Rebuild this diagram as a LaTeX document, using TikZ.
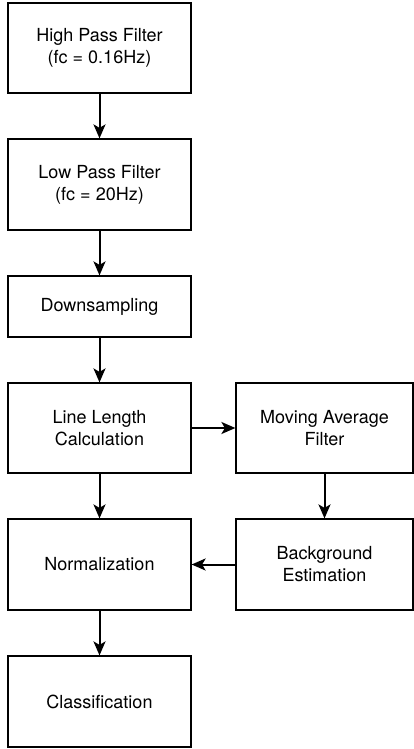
\documentclass[tikz,border=0pt]{standalone}
\usepackage{fontspec}
\setmainfont{TeX Gyre Heros}
\usetikzlibrary{arrows.meta}
\begin{document}
\begin{tikzpicture}[x=1pt,y=-1pt,
  block/.style={draw=black, line width=1.2pt, rectangle, inner sep=0pt,
    align=center, font=\fontsize{18}{22}\selectfont},
  flow/.style={line width=2pt, -{Stealth[length=14pt,width=12pt,inset=3.5pt]}}]
  \useasboundingbox (0,0) rectangle (414,749);
  % main column
  \node[block, minimum width=183pt, minimum height=90pt] (hpf) at (99.5,48) {High Pass Filter\\(fc = 0.16Hz)};
  \node[block, minimum width=183pt, minimum height=91pt] (lpf) at (99.5,184.5) {Low Pass Filter\\(fc = 20Hz)};
  \node[block, minimum width=183pt, minimum height=61pt] (ds) at (99.5,306.5) {Downsampling};
  \node[block, minimum width=183pt, minimum height=90pt] (ll) at (99.5,428) {Line Length\\Calculation};
  \node[block, minimum width=183pt, minimum height=91pt] (norm) at (99.5,564.5) {Normalization};
  \node[block, minimum width=183pt, minimum height=91pt] (cls) at (99.5,701.5) {Classification};
  % side column
  \node[block, minimum width=177pt, minimum height=90pt] (maf) at (324.5,428) {Moving Average\\Filter};
  \node[block, minimum width=177pt, minimum height=91pt] (bg) at (324.5,564.5) {Background\\Estimation};
  % connectors
  \draw[flow] (hpf) -- (lpf);
  \draw[flow] (lpf) -- (ds);
  \draw[flow] (ds) -- (ll);
  \draw[flow] (ll) -- (norm);
  \draw[flow] (norm) -- (cls);
  \draw[flow] (ll) -- (maf);
  \draw[flow] (maf) -- (bg);
  \draw[flow] (bg) -- (norm);
\end{tikzpicture}
\end{document}
